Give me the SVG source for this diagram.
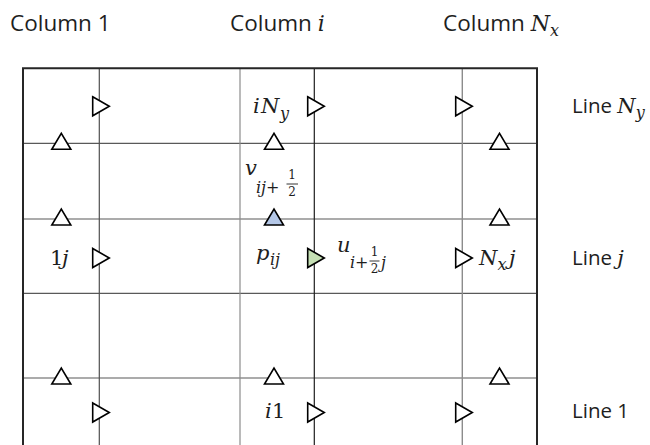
<svg xmlns="http://www.w3.org/2000/svg" width="650" height="445" viewBox="0 0 650 445">
<style>
.lbl{font-family:"Open Sans","Liberation Sans",sans-serif;font-size:22.5px;fill:#1e1e1e}
.ln{font-size:20.5px}
.m{font-family:"DejaVu Serif","Liberation Serif",serif;font-style:italic;font-size:21px;fill:#1e1e1e}
.mu{font-family:"DejaVu Serif","Liberation Serif",serif;font-style:normal;font-size:21px;fill:#1e1e1e}
.s{font-size:16px}
.f{font-family:"DejaVu Serif","Liberation Serif",serif;font-size:12px;fill:#1e1e1e;text-anchor:middle}
.tri{fill:#fff;stroke:#000;stroke-width:1.6;stroke-linejoin:miter}
</style>
<defs>
<polygon id="rt" points="0,-9.5 16.6,0 0,9.5"/>
<polygon id="up" points="-9.5,6 9.5,6 0,-10"/>
</defs>
<rect width="650" height="445" fill="#fff"/>
<g id="grid">
<line x1="23" y1="143.3" x2="537" y2="143.3" stroke="#595959" stroke-width="1.2"/>
<line x1="23" y1="219" x2="537" y2="219" stroke="#595959" stroke-width="1.2"/>
<line x1="23" y1="293.3" x2="537" y2="293.3" stroke="#595959" stroke-width="1.2"/>
<line x1="23" y1="378" x2="537" y2="378" stroke="#595959" stroke-width="1.2"/>
<line x1="99.3" y1="68.3" x2="99.3" y2="450" stroke="#505050" stroke-width="1.2"/>
<line x1="240" y1="68.3" x2="240" y2="450" stroke="#8c8c8c" stroke-width="1.2"/>
<line x1="314.3" y1="68.3" x2="314.3" y2="450" stroke="#1e1e1e" stroke-width="1.2"/>
<line x1="462.3" y1="68.3" x2="462.3" y2="450" stroke="#8c8c8c" stroke-width="1.4"/>
<path d="M23,450 V68.3 H537 V450" fill="none" stroke="#262626" stroke-width="2"/>
</g>
<g id="u-nodes">
<use href="#rt" class="tri" x="92.7" y="106.3"/>
<use href="#rt" class="tri" x="92.7" y="258"/>
<use href="#rt" class="tri" x="92.7" y="412.5"/>
<use href="#rt" class="tri" x="307.7" y="106.3"/>
<use href="#rt" class="tri" x="307.7" y="412.5"/>
<use href="#rt" class="tri" x="455.7" y="106.3"/>
<use href="#rt" class="tri" x="455.7" y="258"/>
<use href="#rt" class="tri" x="455.7" y="412.5"/>
</g>
<g id="u-ij"><use href="#rt" class="tri" x="307.7" y="258" style="fill:#c5e0b4"/></g>
<g id="v-nodes">
<use href="#up" class="tri" x="61.3" y="143.3"/>
<use href="#up" class="tri" x="61.3" y="219"/>
<use href="#up" class="tri" x="61.3" y="378"/>
<use href="#up" class="tri" x="274" y="143.3"/>
<use href="#up" class="tri" x="274" y="378"/>
<use href="#up" class="tri" x="499.5" y="143.3"/>
<use href="#up" class="tri" x="499.5" y="219"/>
<use href="#up" class="tri" x="499.5" y="378"/>
</g>
<g id="v-ij"><use href="#up" class="tri" x="274" y="219" style="fill:#b4c7e7"/></g>
<g id="headers">
<text class="lbl" x="10" y="31">Column 1</text>
<text class="lbl" x="230" y="31">Column <tspan class="m" style="font-size:22px">i</tspan></text>
<text class="lbl" x="443" y="31">Column <tspan class="m" style="font-size:22px">N</tspan><tspan class="m s" dy="5">x</tspan></text>
<text class="lbl ln" x="572" y="113">Line <tspan class="m" style="font-size:21px">N</tspan><tspan class="m s" dy="5">y</tspan></text>
<text class="lbl ln" x="572" y="265">Line <tspan class="m" style="font-size:21px">j</tspan></text>
<text class="lbl ln" x="572" y="418">Line 1</text>
</g>
<g id="labels">
<text class="m" x="253" y="113">i<tspan x="261">N</tspan><tspan class="s" x="280" y="119">y</tspan></text>
<text class="m" x="245" y="175">v<tspan class="s" x="256" y="193">ij+</tspan></text>
<text class="f" x="292" y="179">1</text>
<line x1="286.5" y1="184" x2="298" y2="184" stroke="#1e1e1e" stroke-width="0.9"/>
<text class="f" x="292" y="196">2</text>
<text class="m" x="256" y="260">p<tspan class="s" x="270" y="265">ij</tspan></text>
<text class="m" x="337" y="252">u<tspan class="s" x="350" y="268">i+</tspan><tspan class="s" x="381" y="268">j</tspan></text>
<text class="f" x="374.5" y="256">1</text>
<line x1="369.5" y1="261" x2="379.5" y2="261" stroke="#1e1e1e" stroke-width="0.9"/>
<text class="f" x="374.5" y="273">2</text>
<text class="mu" x="50" y="265">1<tspan class="m" x="62">j</tspan></text>
<text class="m" x="479" y="265">N<tspan class="s" x="497.5" y="270">x</tspan><tspan x="509" y="265">j</tspan></text>
<text class="m" x="265" y="418">i<tspan class="mu" x="272">1</tspan></text>
</g>
</svg>
